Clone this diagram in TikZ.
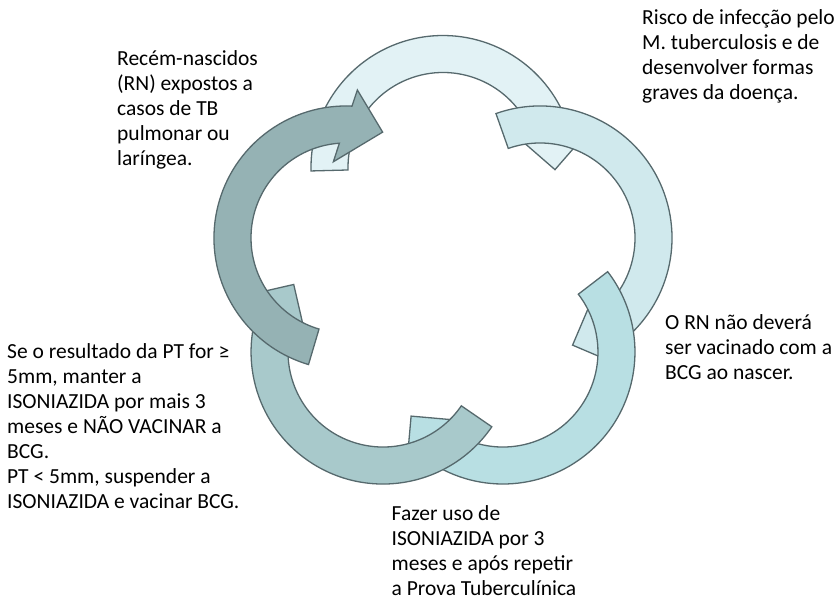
\documentclass[tikz,border=0pt]{standalone}
\usepackage{fontspec}
\setmainfont{Carlito}

\definecolor{edgecol}{HTML}{56696D}
\definecolor{stepA}{HTML}{95B2B4}
\definecolor{stepB}{HTML}{E2F2F5}
\definecolor{stepC}{HTML}{D0E9ED}
\definecolor{stepD}{HTML}{B8DFE3}
\definecolor{stepE}{HTML}{A8C9CB}

% One curved arrow of the cycle, turned about the hub by #1 degrees.
\newcommand\cyclearrow[3]{%
  \begin{scope}[shift={(hub)}, rotate=#1]
    \begin{scope}[shift={(162:102)}]
      \filldraw[arrowshape, fill=#2] (253.5:132)
        arc[start angle=253.5, end angle=87.4, radius=132pt]
        -- (85.6:148.4) -- (70.9:112) -- (99.4:77.3) -- (94:95)
        arc[start angle=94, end angle=253.5, radius=95pt] -- cycle;
      \coordinate (#3) at (170:113);
    \end{scope}
  \end{scope}}

\begin{document}
\begin{tikzpicture}[x=1pt, y=1pt,
  arrowshape/.style={draw=edgecol, line width=1.3pt, line join=miter},
  steptext/.style={anchor=base west, inner sep=0pt,
    font=\fontsize{21.5}{25}\selectfont}]
\useasboundingbox (0,0) rectangle (834,-599);
\coordinate (hub) at (443,-269.5);

% arrows, back to front
\cyclearrow{-72}{stepB}{arB}
\cyclearrow{-144}{stepC}{arC}
\cyclearrow{-216}{stepD}{arD}
\cyclearrow{-288}{stepE}{arE}
\cyclearrow{0}{stepA}{arA}

% step texts
\node[steptext] (t1) at (117,-65.5) {\begin{tabular}[t]{@{}l@{}}Recém-nascidos\\(RN) expostos a\\casos de TB\\pulmonar ou\\laríngea.\end{tabular}};
\node[steptext] (t2) at (642,-25) {\begin{tabular}[t]{@{}l@{}}Risco de infecção pelo\\M. tuberculosis e de\\desenvolver formas\\graves da doença.\end{tabular}};
\node[steptext] (t3) at (665,-329) {\begin{tabular}[t]{@{}l@{}}O RN não deverá\\ser vacinado com a\\BCG ao nascer.\end{tabular}};
\node[steptext] (t4) at (391.5,-520.5) {\begin{tabular}[t]{@{}l@{}}Fazer uso de\\ISONIAZIDA por 3\\meses e após repetir\\a Prova Tuberculínica\end{tabular}};
\node[steptext] (t5) at (7,-358.3) {\begin{tabular}[t]{@{}l@{}}Se o resultado da PT for ≥\\5mm, manter a\\ISONIAZIDA por mais 3\\meses e NÃO VACINAR a\\BCG.\\PT < 5mm, suspender a\\ISONIAZIDA e vacinar BCG.\end{tabular}};
\end{tikzpicture}
\end{document}
